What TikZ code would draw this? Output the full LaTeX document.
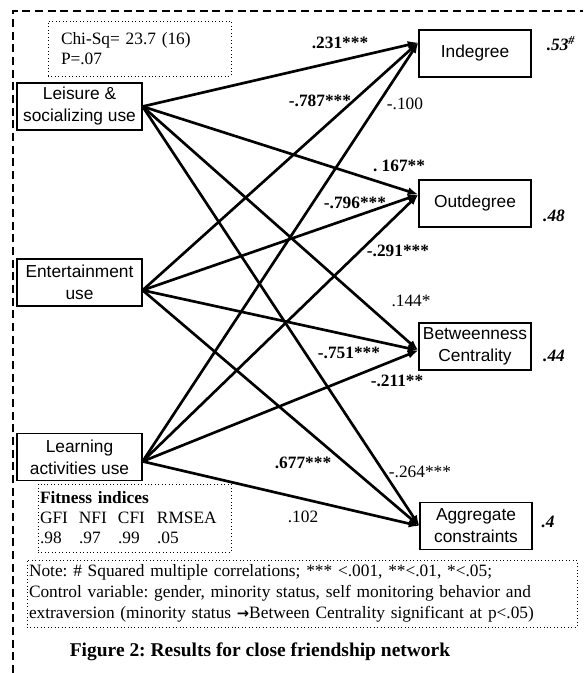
\documentclass[tikz,border=0pt]{standalone}
\usepackage{fontspec}
\setmainfont{Liberation Serif}
\setsansfont{Liberation Sans}
\newfontfamily\arrowfont{DejaVu Sans}
\usetikzlibrary{arrows.meta, positioning}
\frenchspacing

\tikzset{
	var/.style={draw, line width=0.9pt, inner sep=0pt, align=center, font=\sffamily\fontsize{13}{16.5}\selectfont},
	src/.style={var, minimum width=93.75pt, minimum height=35.25pt},
	dst/.style={var, minimum width=84pt, minimum height=35.25pt},
	effect/.style={line width=2pt, -{Latex[length=8pt, width=6pt]}},
	coef/.style={inner sep=0pt, font=\bfseries\fontsize{13}{15}\selectfont},
	coefn/.style={inner sep=0pt, font=\fontsize{13}{15}\selectfont},
	rsq/.style={inner sep=0pt, font=\bfseries\itshape\fontsize{13}{15}\selectfont},
	infobox/.style={draw, dotted, line width=0.6pt, inner sep=0pt, align=left, font=\fontsize{13}{15}\selectfont},
}

\begin{document}
\begin{tikzpicture}[x=0.75pt, y=-0.75pt]
	\useasboundingbox (0,0) rectangle (583,673);
	% Frame and info boxes:
	\draw[dash pattern=on 6pt off 3.5pt, line width=0.8pt] (13,673) -- (13,11) -- (583,11);
	\node[infobox, minimum width=137.25pt, minimum height=41.25pt, inner xsep=9.75pt, text width=117.75pt](chi) at (139.5,48.5){Chi-Sq= 23.7 (16)\\P=.07};
	\node[infobox, minimum width=144.75pt, minimum height=51pt, inner xsep=1.5pt, text width=141.75pt](fit) at (134.5,518){\textbf{Fitness indices}\\
		\makebox[29.25pt][l]{GFI}\makebox[29.25pt][l]{NFI}\makebox[29.25pt][l]{CFI}RMSEA\\
		\makebox[29.25pt][l]{.98}\makebox[29.25pt][l]{.97}\makebox[29.25pt][l]{.99}.05};
	% Variables:
	\node[src](leis) at (79.5,106.5){Leisure \&\\socializing use};
	\node[src](ent) at (79.5,282.5){Entertainment\\use};
	\node[src](learn) at (79.5,457){Learning\\activities use};
	\node[dst](indeg) at (475,53.5){Indegree};
	\node[dst](outdeg) at (475,203.5){Outdegree};
	\node[dst](betw) at (475,346.5){Betweenness\\Centrality};
	\node[dst](aggr) at (476,526){Aggregate\\constraints};
	% Paths:
	\draw[effect] (leis.east) -- (indeg.169);
	\draw[effect] (leis.east) -- (outdeg.171);
	\draw[effect] (leis.east) -- (betw.184);
	\draw[effect] (leis.east) -- (aggr.west);
	\draw[effect] (ent.-7) -- (indeg.169);
	\draw[effect] (ent.-7) -- (outdeg.171);
	\draw[effect] (ent.-7) -- (betw.184);
	\draw[effect] (ent.-7) -- (aggr.west);
	\draw[effect] (learn.-4) -- (indeg.169);
	\draw[effect] (learn.-4) -- (outdeg.171);
	\draw[effect] (learn.-4) -- (betw.184);
	\draw[effect] (learn.-4) -- (aggr.west);
	% Coefficients:
	\node[coef](c11) at (340,43){.231***};
	\node[coef](c21) at (320,101){-.787***};
	\node[coefn](c31) at (405,104){-.100};
	\node[coef](c12) at (399,166){. 167**};
	\node[coef](c22) at (355,203){-.796***};
	\node[coef](c32) at (398,251){-.291***};
	\node[coefn](c13) at (411,301){.144*};
	\node[coef](c23) at (349,353){-.751***};
	\node[coef](c33) at (397,381){-.211**};
	\node[coef](c24) at (303,463){.677***};
	\node[coefn](c34) at (303,517){.102};
	\node[coefn](c14) at (420,472){-.264***};
	% Squared multiple correlations:
	\node[rsq](r1) at (561,44){.53\textsuperscript{\#}};
	\node[rsq](r2) at (554,216){.48};
	\node[rsq](r3) at (554,356){.44};
	\node[rsq](r4) at (548,522){.4};
	% Note and caption:
	\node[infobox, minimum width=412.5pt, minimum height=50.25pt, inner xsep=1.5pt, text width=409.5pt, font=\fontsize{13}{16}\selectfont](note) at (302,593.5){Note: \# Squared multiple correlations; *** <.001, **<.01, *<.05;\\
		Control variable: gender, minority status, self monitoring behavior and\\
		extraversion (minority status {\arrowfont\bfseries\fontsize{11}{16}\selectfont →}Between Centrality significant at p<.05)};
	\node[font=\bfseries\fontsize{14.6}{17}\selectfont, inner sep=0pt](cap) at (260,652){Figure 2: Results for close friendship network};
\end{tikzpicture}
\end{document}
